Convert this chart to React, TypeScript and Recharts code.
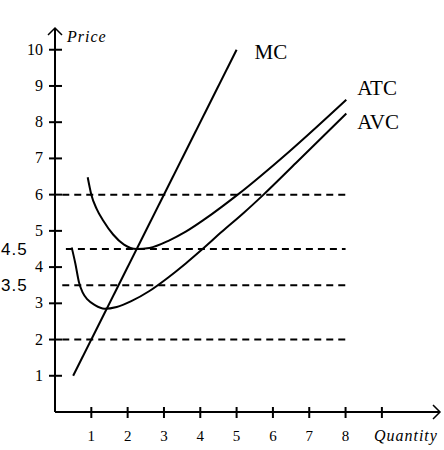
import React from 'react';
import { LineChart, Line, XAxis, YAxis, ReferenceLine } from 'recharts';

// quantity ticks (the 9th slot carries the axis title)
const quantityTicks = [1, 2, 3, 4, 5, 6, 7, 8, 9];
const priceTicks = [1, 2, 3, 3.5, 4, 4.5, 5, 6, 7, 8, 9, 10];
const sideLabels = [3.5, 4.5];

// dashed price levels
const guideLevels = [6, 4.5, 3.5, 2];
const guideFrom = [0.2, 0.3, 0.2, 0.2];
const guideTo = 8;

// cost curves
const mcQ = [0.5, 5];
const mcP = [1, 10];

const atcQ = [0.9, 1.0, 1.15, 1.33, 1.6, 1.9, 2.25, 2.6, 3.15, 3.6, 4.3, 5.03, 6.46, 8.02];
const atcP = [6.48, 6.0, 5.6, 5.28, 4.9, 4.62, 4.5, 4.53, 4.74, 4.98, 5.45, 6.0, 7.2, 8.62];

const avcQ = [0.46, 0.56, 0.66, 0.76, 0.9, 1.1, 1.36, 1.7, 2.1, 2.6, 3.1, 3.6, 4.03, 4.6, 5.2, 5.72, 6.64, 8.02];
const avcP = [4.54, 4.1, 3.58, 3.3, 3.1, 2.95, 2.85, 2.9, 3.06, 3.34, 3.7, 4.1, 4.47, 4.98, 5.5, 5.98, 6.88, 8.24];

const toRows = (qs: number[], ps: number[]) => qs.map((q, i) => ({ q, p: ps[i] }));

const series = [
  { name: 'MC', data: toRows(mcQ, mcP), type: 'linear', dx: 18, dy: 9 },
  { name: 'ATC', data: toRows(atcQ, atcP), type: 'monotone', dx: 11, dy: -5 },
  { name: 'AVC', data: toRows(avcQ, avcP), type: 'monotone', dx: 11, dy: 16 },
];

const serif = '"Liberation Serif", "DejaVu Serif", serif';
const sans = '"Liberation Sans", Arial, sans-serif';

const XTick = (props: any) => {
  const { x, y, payload } = props;
  const v = payload.value;
  return (
    <g>
      <line x1={x} y1={y - 5} x2={x} y2={y + 6} stroke="#000" strokeWidth={2} />
      {v === 9 ? (
        <text x={x - 8} y={y + 29} fontFamily={serif} fontStyle="italic" fontSize={16} letterSpacing={1} fill="#000">
          Quantity
        </text>
      ) : (
        <text x={x} y={y + 29} textAnchor="middle" fontFamily={serif} fontSize={15} fill="#000">
          {v}
        </text>
      )}
    </g>
  );
};

const YTick = (props: any) => {
  const { x, y, payload } = props;
  const v = payload.value;
  if (sideLabels.includes(v)) {
    return (
      <text x={1} y={y + 6} fontFamily={sans} fontSize={17} letterSpacing={1} fill="#000">
        {v}
      </text>
    );
  }
  return (
    <g>
      <line x1={x - 6} y1={y} x2={x + 7} y2={y} stroke="#000" strokeWidth={2} />
      <text x={x - 12} y={y + 5} textAnchor="end" fontFamily={serif} fontSize={16} fill="#000">
        {v}
      </text>
    </g>
  );
};

const XArrow = (props: any) => {
  const { x, y, width } = props.viewBox;
  const ex = x + width;
  return <path d={`M${ex - 7},${y - 7} L${ex},${y} L${ex - 7},${y + 7}`} fill="none" stroke="#000" strokeWidth={1.5} />;
};

const YArrow = (props: any) => {
  const { x, y, width } = props.viewBox;
  const ax = x + width;
  return (
    <g>
      <path d={`M${ax - 7},${y + 7} L${ax},${y} L${ax + 7},${y + 7}`} fill="none" stroke="#000" strokeWidth={1.5} />
      <text x={ax + 12} y={y + 14} fontFamily={serif} fontStyle="italic" fontSize={16} letterSpacing={1} fill="#000">
        Price
      </text>
    </g>
  );
};

export default function App() {
  return (
    <div style={{ position: 'absolute', left: 0, top: 0, background: '#fff' }}>
      <LineChart width={444} height={450} margin={{ top: 28, right: 4, bottom: 0, left: 0 }}>
        <XAxis
          type="number"
          dataKey="q"
          domain={[0, 10.6]}
          ticks={quantityTicks}
          interval={0}
          tickSize={0}
          tickMargin={0}
          tickLine={false}
          height={38}
          axisLine={{ stroke: '#000', strokeWidth: 2 }}
          tick={XTick}
          allowDataOverflow
          label={XArrow}
        />
        <YAxis
          type="number"
          dataKey="p"
          domain={[0, 10.6]}
          ticks={priceTicks}
          interval={0}
          tickSize={0}
          tickMargin={0}
          tickLine={false}
          width={55}
          axisLine={{ stroke: '#000', strokeWidth: 2 }}
          tick={YTick}
          allowDataOverflow
          label={YArrow}
        />
        {guideLevels.map((lvl, i) => (
          <ReferenceLine
            key={lvl}
            segment={[
              { x: guideFrom[i], y: lvl },
              { x: guideTo, y: lvl },
            ]}
            stroke="#000"
            strokeWidth={2}
            strokeDasharray="7 5"
          />
        ))}
        {series.map((s) => (
          <Line
            key={s.name}
            data={s.data}
            dataKey="p"
            type={s.type as any}
            stroke="#000"
            strokeWidth={2}
            dot={false}
            activeDot={false}
            isAnimationActive={false}
            label={(lp: any) =>
              lp.index === s.data.length - 1 ? (
                <text key={s.name} x={lp.x + s.dx} y={lp.y + s.dy} fontFamily={serif} fontSize={21} fill="#000">
                  {s.name}
                </text>
              ) : (
                <g key={`${s.name}-${lp.index}`} />
              )
            }
          />
        ))}
      </LineChart>
    </div>
  );
}
